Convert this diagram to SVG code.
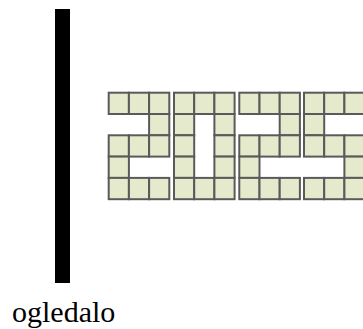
<svg xmlns="http://www.w3.org/2000/svg" width="363" height="329" viewBox="0 0 363 329">
<defs>
<style>
.c{fill:#e5eacd;stroke:#5a5a5a;stroke-width:2}
.lbl{font-family:"Liberation Serif",serif;font-size:30px;fill:#000}
</style>
<rect id="c" class="c" width="20.2" height="21.3"/>
</defs>
<rect width="363" height="329" fill="#fff"/>
<g id="mirror">
<rect x="55" y="9" width="15" height="274" fill="#000"/>
<text class="lbl" x="12" y="321.5">ogledalo</text>
</g>
<g id="digit-2a" transform="translate(108.7,92.7)">
<use href="#c" x="0" y="0"/><use href="#c" x="20.2" y="0"/><use href="#c" x="40.4" y="0"/>
<use href="#c" x="40.4" y="21.3"/>
<use href="#c" x="0" y="42.6"/><use href="#c" x="20.2" y="42.6"/><use href="#c" x="40.4" y="42.6"/>
<use href="#c" x="0" y="63.9"/>
<use href="#c" x="0" y="85.2"/><use href="#c" x="20.2" y="85.2"/><use href="#c" x="40.4" y="85.2"/>
</g>
<g id="digit-0" transform="translate(174,92.7)">
<use href="#c" x="0" y="0"/><use href="#c" x="20.2" y="0"/><use href="#c" x="40.4" y="0"/>
<use href="#c" x="0" y="21.3"/><use href="#c" x="40.4" y="21.3"/>
<use href="#c" x="0" y="42.6"/><use href="#c" x="40.4" y="42.6"/>
<use href="#c" x="0" y="63.9"/><use href="#c" x="40.4" y="63.9"/>
<use href="#c" x="0" y="85.2"/><use href="#c" x="20.2" y="85.2"/><use href="#c" x="40.4" y="85.2"/>
</g>
<g id="digit-2b" transform="translate(239.3,92.7)">
<use href="#c" x="0" y="0"/><use href="#c" x="20.2" y="0"/><use href="#c" x="40.4" y="0"/>
<use href="#c" x="40.4" y="21.3"/>
<use href="#c" x="0" y="42.6"/><use href="#c" x="20.2" y="42.6"/><use href="#c" x="40.4" y="42.6"/>
<use href="#c" x="0" y="63.9"/>
<use href="#c" x="0" y="85.2"/><use href="#c" x="20.2" y="85.2"/><use href="#c" x="40.4" y="85.2"/>
</g>
<g id="digit-5" transform="translate(304,92.7)">
<use href="#c" x="0" y="0"/><use href="#c" x="20.2" y="0"/><use href="#c" x="40.4" y="0"/>
<use href="#c" x="0" y="21.3"/>
<use href="#c" x="0" y="42.6"/><use href="#c" x="20.2" y="42.6"/><use href="#c" x="40.4" y="42.6"/>
<use href="#c" x="40.4" y="63.9"/>
<use href="#c" x="0" y="85.2"/><use href="#c" x="20.2" y="85.2"/><use href="#c" x="40.4" y="85.2"/>
</g>
</svg>
